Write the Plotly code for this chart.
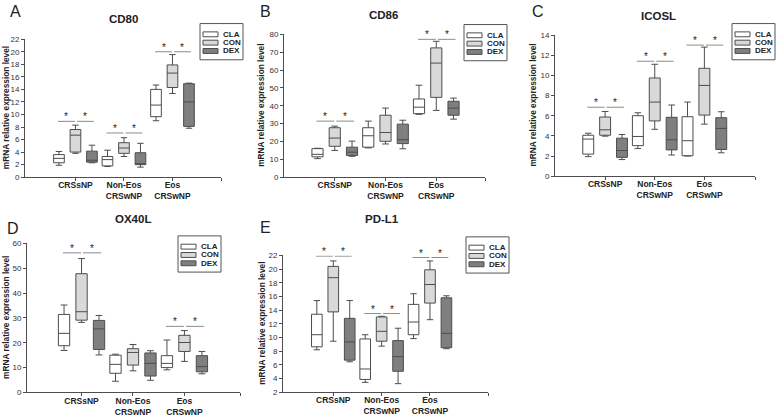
import plotly.graph_objects as go

W, H = 778, 417

categories = ["CRSsNP", "Non-Eos", "Eos"]
category_labels = ["<b>CRSsNP</b>", "<b>Non-Eos<br>CRSwNP</b>", "<b>Eos<br>CRSwNP</b>"]
groups = ["CLA", "CON", "DEX"]

# each tuple: (lower whisker, q1, median, q3, upper whisker) per category
cd80_cla = [(1.9, 2.3, 3.0, 3.6, 4.1), (1.7, 1.8, 2.8, 3.3, 4.3), (9.0, 9.65, 11.5, 14.0, 14.7)]
cd80_con = [(3.8, 4.0, 6.7, 7.6, 8.3), (3.3, 3.8, 4.65, 5.5, 6.3), (13.35, 14.3, 16.6, 17.9, 19.55)]
cd80_dex = [(2.3, 2.4, 2.7, 4.15, 5.1), (1.6, 2.0, 2.1, 3.9, 5.4), (7.8, 8.1, 12.0, 14.9, 15.0)]
cd80_sig = [8.9, 7.05, 20.0]

cd86_cla = [(10.4, 11.4, 12.8, 16.0, 16.2), (16.4, 16.8, 23.2, 27.7, 31.4), (35.2, 35.6, 39.2, 43.8, 51.5)]
cd86_con = [(15.0, 17.3, 21.9, 27.7, 28.6), (18.6, 20.1, 25.0, 34.7, 38.7), (37.4, 44.7, 63.9, 72.4, 76.1)]
cd86_dex = [(11.7, 12.2, 14.0, 16.8, 20.2), (15.9, 18.8, 21.0, 29.7, 31.9), (32.5, 34.7, 38.7, 42.5, 44.3)]
cd86_sig = [31.4, None, 77.2]

icosl_cla = [(1.94, 2.19, 3.68, 4.06, 4.26), (2.74, 3.03, 3.94, 6.0, 6.29), (2.0, 2.03, 3.52, 5.9, 7.35)]
icosl_con = [(3.97, 4.06, 4.6, 5.87, 6.42), (4.65, 5.48, 7.35, 9.74, 11.1), (5.16, 6.06, 9.0, 10.7, 12.8)]
icosl_dex = [(1.65, 1.87, 2.55, 3.77, 4.13), (2.1, 2.61, 3.61, 5.84, 7.06), (2.32, 2.65, 4.74, 5.8, 6.39)]
icosl_sig = [6.84, 11.4, 13.0]

ox40l_cla = [(16.9, 18.8, 23.8, 31.4, 35.2), (4.5, 7.7, 11.3, 15.0, 15.4), (9.1, 10.0, 11.7, 14.8, 21.1)]
ox40l_con = [(28.2, 29.1, 32.5, 47.8, 53.9), (8.7, 11.0, 16.1, 17.6, 19.3), (12.5, 16.5, 20.1, 23.0, 24.9)]
ox40l_dex = [(15.1, 17.3, 25.6, 29.0, 31.0), (4.9, 6.6, 11.7, 15.9, 16.8), (7.5, 8.3, 10.4, 14.8, 16.5)]
ox40l_sig = [56.2, None, 26.6]

pdl1_cla = [(8.2, 8.63, 10.4, 13.4, 15.4), (3.43, 3.86, 5.39, 9.78, 10.4), (9.83, 10.4, 12.26, 14.84, 16.4)]
pdl1_con = [(9.45, 13.74, 18.75, 20.4, 21.2), (8.73, 9.45, 10.9, 13.0, 13.1), (12.6, 15.03, 17.75, 19.9, 21.2)]
pdl1_dex = [(6.44, 6.68, 9.35, 12.8, 15.4), (3.24, 5.05, 7.2, 9.54, 11.35), (8.35, 8.5, 10.6, 15.8, 16.1)]
pdl1_sig = [21.9, 13.5, 21.7]

panels = [
    dict(letter="A", title="CD80", data=[cd80_cla, cd80_con, cd80_dex], sig=cd80_sig,
         yr=(0, 22), dt=2, box=(25, 221, 36, 177), xr=(-1.04, 3.0),
         letter_pos=(15, 8), title_pos=(123, 15), ytitle_x=6, legend=(200, 20)),
    dict(letter="B", title="CD86", data=[cd86_cla, cd86_con, cd86_dex], sig=cd86_sig,
         yr=(0, 80), dt=10, box=(284, 485, 31, 177), xr=(-1.0, 2.96),
         letter_pos=(265, 8), title_pos=(383, 11), ytitle_x=261, legend=(464, 21)),
    dict(letter="C", title="ICOSL", data=[icosl_cla, icosl_con, icosl_dex], sig=icosl_sig,
         yr=(0, 14), dt=2, box=(555, 755, 31.7, 176), xr=(-1.01, 3.02),
         letter_pos=(538, 8), title_pos=(658, 12), ytitle_x=533, legend=(732, 20)),
    dict(letter="D", title="OX40L", data=[ox40l_cla, ox40l_con, ox40l_dex], sig=ox40l_sig,
         yr=(0, 60), dt=10, box=(27, 240, 244.7, 397), xr=(-1.06, 3.08),
         letter_pos=(13, 229), title_pos=(133, 220), ytitle_x=6, legend=(178, 237)),
    dict(letter="E", title="PD-L1", data=[pdl1_cla, pdl1_con, pdl1_dex], sig=pdl1_sig,
         yr=(2, 22), dt=2, box=(283, 488, 257, 396.7), xr=(-1.04, 3.2),
         letter_pos=(265, 228), title_pos=(382, 220), ytitle_x=262, legend=(466, 238)),
]

fills = {"CLA": "#ffffff", "CON": "#d9d9d9", "DEX": "#7f7f7f"}
offsets = {"CLA": -0.34, "CON": 0.0, "DEX": 0.34}
box_width = 0.22
edge = "#4d4d4d"
font_family = "Liberation Sans, Arial, sans-serif"


def px(x):
    return x / W


def py(y):
    return 1 - y / H


def label(x, y, text, size, **kw):
    # paper-positioned text, centred on (x, y) given in pixels
    d = dict(x=px(x), y=py(y), xref="paper", yref="paper", text=text, showarrow=False,
             xanchor="center", yanchor="middle", font=dict(size=size, color="#222"))
    d.update(kw)
    return d


fig = go.Figure()
shapes = []
annotations = []
layout_axes = {}

for i, p in enumerate(panels, start=1):
    sfx = "" if i == 1 else str(i)
    xa, ya = "x" + sfx, "y" + sfx

    for g, stats in zip(groups, p["data"]):
        fig.add_trace(go.Box(
            x=[k + offsets[g] for k in range(len(categories))],
            lowerfence=[s[0] for s in stats],
            q1=[s[1] for s in stats],
            median=[s[2] for s in stats],
            q3=[s[3] for s in stats],
            upperfence=[s[4] for s in stats],
            name=g,
            width=box_width,
            fillcolor=fills[g],
            line=dict(color=edge, width=1),
            whiskerwidth=0.6,
            boxpoints=False,
            showlegend=False,
            xaxis=xa, yaxis=ya,
        ))

    x0, x1, y0, y1 = p["box"]
    # category ticks plus a bare tick closing the axis on the right
    layout_axes["xaxis" + sfx] = dict(
        domain=[px(x0), px(x1)], anchor=ya, range=list(p["xr"]),
        tickvals=list(range(len(categories))) + [p["xr"][1]],
        ticktext=category_labels + [""],
        showline=True, linecolor=edge, linewidth=1, ticks="outside", ticklen=3,
        tickcolor=edge, showgrid=False, zeroline=False, ticklabelstandoff=-3,
        tickfont=dict(size=8.5, color="#222"),
    )
    layout_axes["yaxis" + sfx] = dict(
        domain=[py(y1), py(y0)], anchor=xa, range=list(p["yr"]),
        tick0=p["yr"][0], dtick=p["dt"],
        showline=True, linecolor=edge, linewidth=1, ticks="outside", ticklen=3,
        tickcolor=edge, showgrid=False, zeroline=False,
        tickfont=dict(size=8, color="#333"),
    )

    # significance bars and stars
    for ci, level in enumerate(p["sig"]):
        if level is None:
            continue
        for a, b in [(-0.36, -0.01), (0.03, 0.38)]:
            shapes.append(dict(type="line", xref=xa, yref=ya,
                               x0=ci + a, x1=ci + b, y0=level, y1=level,
                               line=dict(color="#8c8c8c", width=1)))
            annotations.append(dict(x=ci + (a + b) / 2, y=level, xref=xa, yref=ya,
                                    text="*", showarrow=False, xanchor="center",
                                    yanchor="bottom", yshift=-3,
                                    font=dict(size=10, color="#222")))

    # panel letter, title, y title
    annotations.append(label(*p["letter_pos"], p["letter"], 16))
    annotations.append(label(*p["title_pos"], "<b>%s</b>" % p["title"], 11.5))
    annotations.append(label(p["ytitle_x"], (y0 + y1) / 2,
                             "<b>mRNA relative expression level</b>", 8.3, textangle=-90))

    # legend box
    gx, gy = p["legend"]
    shapes.append(dict(type="rect", xref="paper", yref="paper",
                       x0=px(gx), x1=px(gx + 43), y0=py(gy + 37), y1=py(gy),
                       line=dict(color="#555", width=1), fillcolor="white"))
    for k, g in enumerate(groups):
        cy = gy + 11 + k * 8.5
        shapes.append(dict(type="rect", xref="paper", yref="paper",
                           x0=px(gx + 3), x1=px(gx + 18), y0=py(cy + 2.5), y1=py(cy - 2.5),
                           line=dict(color=edge, width=1), fillcolor=fills[g]))
        annotations.append(label(gx + 21, cy, "<b>%s</b>" % g, 8, xanchor="left"))

fig.update_layout(
    width=W, height=H,
    margin=dict(l=0, r=0, t=0, b=0),
    paper_bgcolor="white", plot_bgcolor="white",
    font=dict(family=font_family, color="#333"),
    showlegend=False,
    shapes=shapes, annotations=annotations,
    **layout_axes,
)

# the page body has a default 8px margin; drop it so the figure sits at the window's corner
fig.write_html("out.html", config={"displayModeBar": False},
               post_script="document.body.style.margin='0px';")
